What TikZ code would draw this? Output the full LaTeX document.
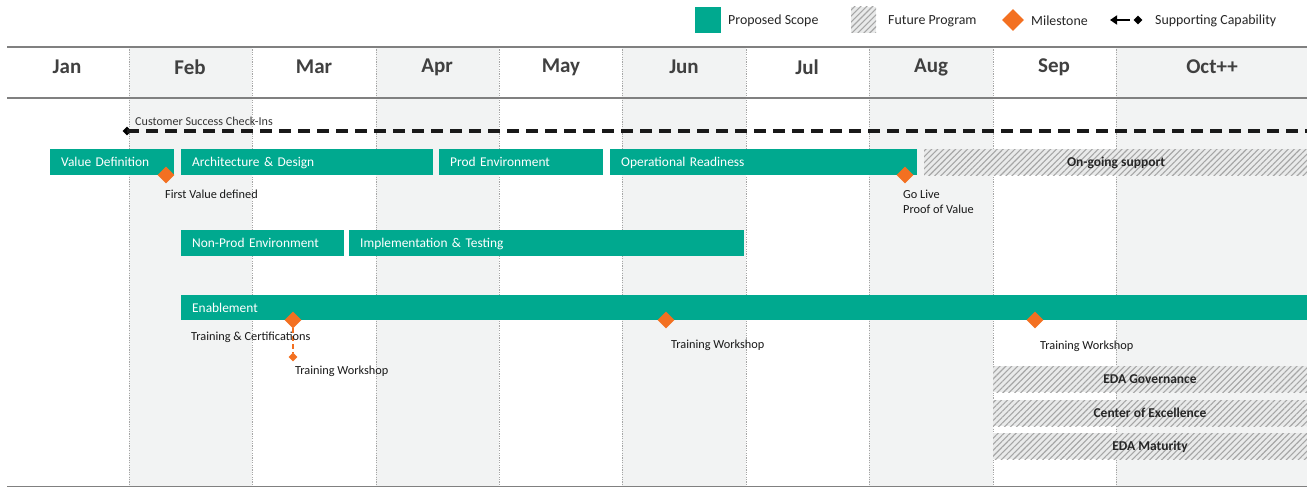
\documentclass[tikz,border=0pt]{standalone}
\usepackage{fontspec}
\setmainfont{Carlito}
\usetikzlibrary{shapes.geometric,patterns.meta,arrows.meta}
\definecolor{teal1}{HTML}{00A98F}
\definecolor{orng}{HTML}{F37021}
\definecolor{colshade}{HTML}{F2F3F3}
\definecolor{hdr}{HTML}{404040}
\definecolor{rulegray}{HTML}{808080}
\definecolor{hatchbg}{HTML}{E9EAEA}
\definecolor{hatchln}{HTML}{A6A6A6}
\tikzset{
  bar/.style={fill=teal1, draw=none, text=white, font=\fontsize{13.4}{15}\selectfont, anchor=north west, inner xsep=11pt, inner ysep=0pt, text height=12pt, text depth=3pt, align=left},
  hatched/.style={fill=hatchbg, postaction={pattern={Lines[angle=45,distance=4.2pt,line width=1.1pt]}, pattern color=hatchln}},
  hatchtxt/.style={font=\bfseries\fontsize{13.5}{15}\selectfont, text=black!85, anchor=base, inner sep=0pt},
  ms/.style={diamond, fill=orng, draw=none, inner sep=0pt, minimum width=17pt, minimum height=17pt},
  mssmall/.style={diamond, fill=orng, draw=none, inner sep=0pt, minimum width=9pt, minimum height=9pt},
  captxt/.style={font=\fontsize{12.3}{15}\selectfont, text=black!90, anchor=west, inner sep=0pt, align=left},
  month/.style={font=\bfseries\fontsize{21}{23}\selectfont, text=hdr},
  legtxt/.style={font=\fontsize{13.9}{15}\selectfont, text=black!85, anchor=west, inner sep=0pt},
  colline/.style={draw=black!35, line width=0.6pt, dash pattern=on 1.2pt off 1.2pt},
}
\begin{document}
\begin{tikzpicture}[x=1pt,y=-1pt]
\useasboundingbox (0,0) rectangle (1307,487);
\fill[white] (0,0) rectangle (1307,487);
% shaded columns
\foreach \a/\b in {129/252,376/499,622/746,869/993,1116/1307}{
  \fill[colshade] (\a,47) rectangle (\b,486);
}
% column lines
\foreach \x in {129,252,376,499,622,746,869,993,1116}{
  \draw[colline] (\x,47) -- (\x,486);
}
% header rules
\draw[rulegray, line width=2pt] (7,47) -- (1307,47);
\draw[rulegray, line width=1.6pt] (7,98) -- (1307,98);
\draw[rulegray, line width=1pt] (7,486) -- (1307,486);
% months
\node[month] (mJan) at (67,67) {Jan};
\node[month] (mFeb) at (190,67) {Feb};
\node[month] (mMar) at (314,67) {Mar};
\node[month] (mApr) at (437,67) {Apr};
\node[month] (mMay) at (561,67) {May};
\node[month] (mJun) at (684,67) {Jun};
\node[month] (mJul) at (807,67) {Jul};
\node[month] (mAug) at (931,67) {Aug};
\node[month] (mSep) at (1054,67) {Sep};
\node[month] (mOct) at (1212,67) {Oct++};

% legend
\fill[teal1] (695,7) rectangle (721,33);
\node[legtxt] (lg1) at (728,21) {Proposed Scope};
\path[hatched] (851,7) rectangle (876,33);
\node[legtxt] (lg2) at (888,21) {Future Program};
\node[diamond, fill=orng, inner sep=0pt, minimum width=22pt, minimum height=22pt] (lgd) at (1013,20) {};
\node[legtxt] (lg3) at (1031,21) {Milestone};
\coordinate (lgaL) at (1110,20);
\node[diamond, fill=black, inner sep=0pt, minimum width=9pt, minimum height=9pt] (lgdia) at (1138,20) {};
\draw[line width=2.4pt, {Triangle[length=7pt,width=9pt]}-] (lgaL) -- (1130,20);
\node[legtxt] (lg4) at (1155,21) {Supporting Capability};

% supporting capability line
\node[diamond, fill=black, inner sep=0pt, minimum width=9pt, minimum height=9pt] (csL) at (127,131) {};
\coordinate (csR) at (1307,131);
\draw[line width=3.2pt, dash pattern=on 12pt off 7pt, black!90] (csL.center) -- (csR);
\node[captxt, font=\fontsize{12.1}{14}\selectfont, text=black!80] (csT) at (135,121) {Customer Success Check-Ins};

% row 1
\node[bar, minimum width=124pt, minimum height=26pt, text width=102pt] (b1) at (50,149) {Value Definition};
\node[bar, minimum width=252pt, minimum height=26pt, text width=230pt] (b2) at (181,149) {Architecture \& Design};
\node[bar, minimum width=164pt, minimum height=26pt, text width=142pt] (b3) at (439,149) {Prod Environment};
\node[bar, minimum width=307pt, minimum height=26pt, text width=285pt] (b4) at (610,149) {Operational Readiness};
\path[hatched] (924,149) rectangle (1307,175);
\node[hatchtxt] (b5) at (1116,166.5) {On-going support};

% row 2
\node[bar, minimum width=163pt, minimum height=26pt, text width=141pt] (b6) at (181,230) {Non-Prod Environment};
\node[bar, minimum width=395pt, minimum height=26pt, text width=373pt] (b7) at (349,230) {Implementation \& Testing};

% row 3
\node[bar, minimum width=1126pt, minimum height=25pt, text width=1104pt] (b8) at (181,295) {Enablement};

% hatched rows
\path[hatched] (993,366) rectangle (1307,392);
\node[hatchtxt] (h1) at (1150,383.5) {EDA Governance};
\path[hatched] (993,400) rectangle (1307,426);
\node[hatchtxt] (h2) at (1150,417.5) {Center of Excellence};
\path[hatched] (993,433) rectangle (1307,459);
\node[hatchtxt] (h3) at (1150,450.5) {EDA Maturity};

% milestones
\node[ms] (m1) at (166,175) {};
\node[captxt] (m1t) at (165,194) {First Value defined};
\node[ms] (m2) at (905,175) {};
\node[captxt] (m2t) at (903,201.5) {Go Live\\Proof of Value};
\node[mssmall] (m3b) at (293,357) {};
\draw[orng, line width=2pt, dash pattern=on 5pt off 3pt] (293,320) -- (m3b.north);
\node[ms] (m3) at (293,320) {};
\node[captxt] (m3t) at (191,337) {Training \& Certifications};
\node[captxt] (m3bt) at (295,371) {Training Workshop};
\node[ms] (m4) at (666,320) {};
\node[captxt] (m4t) at (671,345) {Training Workshop};
\node[ms] (m5) at (1035,320) {};
\node[captxt] (m5t) at (1040,346) {Training Workshop};
\end{tikzpicture}
\end{document}
